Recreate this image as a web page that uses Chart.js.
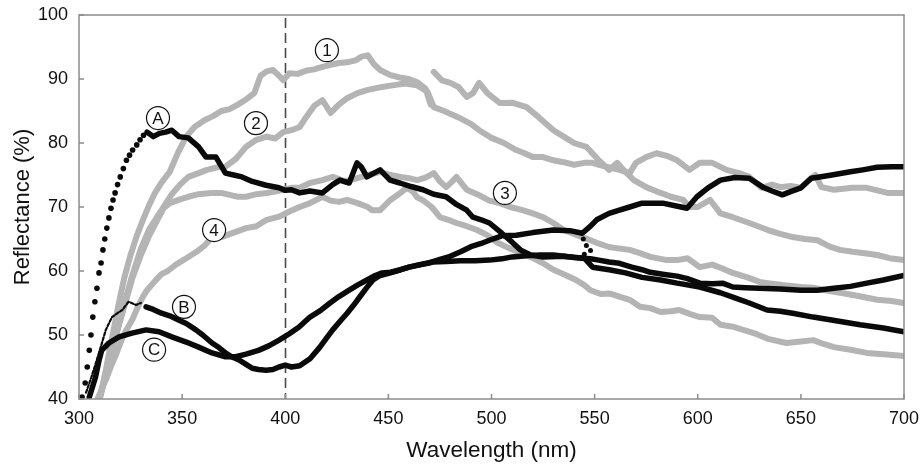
<!DOCTYPE html>
<html><head><meta charset="utf-8">
<script src="https://cdn.jsdelivr.net/npm/chart.js@4.4.1/dist/chart.umd.min.js"></script>
<style>html,body{margin:0;padding:0;background:#fff}canvas{display:block}</style>
</head><body>
<canvas id="c" width="921" height="467"></canvas>
<script>
// ---- tick labels / axis ----
const xTicks = [300, 350, 400, 450, 500, 550, 600, 650, 700];
const yTicks = [40, 50, 60, 70, 80, 90, 100];
const dashAt = 400;

// ---- gray spectra (1-4) ----
const wl1 = [310,313,316,319,322,325,328,331,334,337,340,344,348,352,356,361,365,369,373,377,381,385,388,391,394,397,399,402,406,410,414,418,422,426,430,434,437,440,443,446,451,456,460,464,468,470.5,472,476,480,484,488,491,494,498,504,510,517,523,530,535,540,546,552,557,561,564,569,575,582,587,593,596,600,606,611,617,625,634,640,646,652,658,664,669,675,680,687,693,700];
const r1  = [40,44.5,49.5,54.5,59,62.5,65.5,68,70.3,72.3,73.8,75.5,78.5,81,82.5,83.6,84.2,85,85.3,86,86.8,87.8,90.5,91.2,91.4,90.5,89.8,90.9,90.8,91.3,91.5,91.9,92.2,92.5,92.6,92.9,93.5,93.7,92.3,91.4,90.6,90.2,90,89.5,88.5,86,91.1,89.8,89.4,88.75,87.2,87.8,89.4,87.8,86.25,86.3,85.6,84,82,81,80,79.4,77.3,75.8,76.9,75.8,74.2,73.1,72.2,71.6,71.1,70,70,71.1,69,68.4,67.5,66.4,65.8,65.3,65,64.8,63.8,63.3,63,62.8,62.5,62,61.7];

const wl2 = [310,314,318,322,326,330,334,338,342,345,349,353,358,362,367,371,376,381,386,391,395,399,403,407,410,414,418,422,426,430,435,440,446,452,458,464,469,472,477,484,490,494,500,506,512,516,520,525,530,535,540,545,549,553,557,562,567,570,575,580,585,590,596,601,607,614,620,625,631,636,640,645,650,654,657,660,666,675,682,692,700];
const r2  = [40,45,50,55,59.5,63.5,66.5,68.5,70.5,72,73.5,74.7,75.3,75.8,76.2,76.3,77.5,79.4,80.5,81,80.7,81.7,82,82.5,84,85.8,86.7,84.7,86,87,87.8,88.3,88.7,89,89.3,89,88,85.6,85,84,83,82,80.8,80,78.9,78.4,77.8,77.8,77.3,77,76.6,76.9,76.9,76.5,76.2,75.8,75.3,76.9,77.8,78.4,78,77.3,75.8,76.9,76.9,75.8,75.3,74.7,73,73.5,73.1,73.3,73,74.2,75,73.1,72.7,73,73,72.2,72.2];

const wl3 = [310,314,318,322,326,330,334,338,341,344,349,353,358,364,369,373,377,381,386,391,395,399,403,407,412,418,423,429,435,440,446,451,456,460,464,468,472,475,478,481,483,486,488,493,499,504,509,515,520,525,530,535,540,544,548,551,557,562,567,572,577,585,590,595,601,607,612,617,624,630,634,641,650,656,662,669,676,687,694,700];
const r3  = [40,45,50,54.5,59,62.5,65.5,68,69.8,70.6,71.2,71.6,72,72.2,72.2,71.9,71.6,71.6,72,72.2,72.4,72.7,73,73,73.75,74.2,74.7,74,74.5,75,75.5,75,74.7,74.5,74.2,74.6,75.3,74,73.1,74,74.7,73.5,72.7,72,71,70.6,70,69.5,69,68.4,67.5,66.4,65.8,65.3,64.8,64.4,63.75,63.5,63.3,62.8,62.2,61.7,61.7,62,60.6,61,60.4,59.7,59,58.3,58.1,57.8,57.5,57.4,57,56.6,56.2,55.5,55.3,55];

const wl4 = [309,311,313.5,316,318,321,323,326,328,331,333,337,340,343,347,352,357,361,364.5,369,375,381,386,391,397,402,407,412,418,422,426,430,435,440,442,446,451,455,459,462,464,467,471,475,479,483,488,493,498,503,509,514,519,525,530,535,541,545,548,553,557,562,567,572,577,582,587,591,596,601,607,611,617,622,628,634,643,650,656,661,666,674,682,690,700];
const r4  = [40,41.5,43.4,45.5,47,49.5,50.8,52.5,54,56,57,58.5,59.5,60,61,62,63,64,65.3,65.3,66,66.7,67,68,68.5,69.3,70,70.6,71.6,71,70.8,71.1,70.6,70,69.5,69.5,71.1,72,73,72.4,71.5,71,70,68.4,68,67.5,67,66.4,65.6,64.4,63.5,62.8,62.2,61.2,60.2,59.5,58.6,57.8,57,56.4,56.5,56,55.5,54.4,54.2,53.6,53.7,53.9,53.3,52.8,52.7,51.6,51.3,50.8,50.2,49.4,48.75,49,49.2,48.6,48.1,47.7,47.2,47,46.7];

// ---- black spectra (A-C) ----
const wlAdots = [301.5,303,304,305,305.8,306.7,307.7,308.7,309.7,310.7,311.6,312.5,313.5,314.5,315.5,316.5,317.5,318.7,320,321.5,323,324.5,326,328,329.6,331.3];
const rAdots  = [40.3,42.5,45,47.6,50,52.8,55.2,57.3,59.7,61.25,63.3,65,66.7,68.3,69.8,71.1,72.2,73.5,74.7,76,77.3,78.1,78.9,79.7,80.5,81.2];
const wlA = [333,336,339,342,345,348.5,353,358,361.6,366.4,371,375,379,384,390.7,397,400,403,407,412,418,423,426.5,431,434.8,437,439.6,443,446,450.8,455.6,461,466.8,472,478,483,488,491,495,499,505,510,514,519,525,535,545,549,557,565,573,582,590,601,611,618,625,633.6,640,646,656,665.6,678.7,690,700];
const rA  = [81.7,81,81.5,81.7,82,81,80.8,79.4,77.8,77.8,75.3,75,74.7,74,73.4,73,72.6,72.7,72.2,72.5,72.2,73.5,74.2,73.75,76.9,76.2,74.7,75.3,75.8,74.2,73.75,73.2,72.7,72,71.6,70.4,69.5,68.4,68,67.5,65.9,64.5,63.3,62.5,62.2,62.3,62,60.6,60.2,59.7,59,58.6,58.1,57.5,56.6,55.8,55,53.9,53.7,53.4,52.8,52.3,51.6,51.1,50.5];

const wlBstart = [303.4,306,309.7,313,316,319,321,324,327.6,330];
const rBstart  = [41,43.4,47.2,50.8,52.8,53.5,53.9,55.2,54.7,55];
const wlB = [332.5,336,340,344,348.5,352,356.7,360,364.5,368,371,374,377.6,381,384,387,390.7,394,397,400,403,407,412,416.8,420,423,427,430,433,436,439.5,442.5,446,451,456,460,465,470,475,480,485,490,495,499,505,512,520,530,538,544,548,551,557,562,567,573,578,583,589,594.8,599.6,605,611,618,625,631.6,636,641,645,650,655,659,665,674,680,687,694,700];
const rB  = [54.4,54,53.4,53,52.3,51.8,50.8,50,48.75,48,47.2,46.6,46.1,45.4,44.8,44.6,44.5,44.6,45,45.3,45,45.2,46.3,48.1,49.5,50.8,52.3,53.4,54.6,55.9,57.4,58.6,59.3,59.7,60.2,60.6,61,61.3,61.8,62.3,63,63.8,64.3,64.8,65.5,65.6,66,66.4,66.3,65.9,67,68,69,69.5,70,70.6,70.6,70.6,70.2,69.8,71.6,73,74.2,74.6,74.5,73.1,72.5,71.9,72.4,73,74.5,74.7,75,75.5,75.8,76.2,76.3,76.3];
const wlBdots = [544.5,546,548,545];
const rBdots  = [65,64,63.2,62.6];

const wlC = [305,308,309.7,311,314.5,319.4,325.7,332.5,338.8,345,352,358,364.5,371,376,381,387,392,397,402,406.7,412,417,421.7,426,431,435,439.6,443,447,451,456,460,466,471.6,478,485,492,499,505,510,517,523.5,530,535,540,544,548,552,557,562,568,573,577,583,590,595,601,607,612,617,623,630,640,650,658,666,674,682,690,700];
const rC  = [40.3,43.4,46,47.6,48.75,49.7,50.3,50.8,50.5,49.7,48.9,48.1,47.2,46.6,46.6,47,47.6,48.3,49.2,50.2,51.25,52.8,53.8,55,56,57,57.8,58.6,59.2,59.7,59.8,60.2,60.6,61,61.4,61.5,61.6,61.6,61.7,61.9,62.2,62.4,62.5,62.5,62.3,62.1,62,61.9,61.7,61.4,61.2,60.6,60.2,59.8,59.5,59.2,58.8,58.1,58,58.1,57.5,57.4,57.3,57.2,57,57,57.3,57.6,58.1,58.6,59.3];

// ---- curve labels (text, wavelength, reflectance) ----
const labelText = ['1', '2', '3', '4', 'A', 'B', 'C'];
const labelX    = [420.2, 385.8, 506.5, 365.5, 338.3, 350.9, 336.4];
const labelY    = [94.5, 83.1, 72.2, 66.4, 83.9, 54.4, 47.7];

const FONT = "'Liberation Sans', Arial, Helvetica, sans-serif";
const GRAY = '#b4b4b4';
const BLACK = '#0a0a0a';
const AXIS = '#8c8c8c';

function pts(xs, ys) {
  return xs.map((x, i) => ({x: x, y: ys[i]}));
}
// a detector-switch jump (steep step over < 2 nm) is left as a gap, as in the original plot
const jumpGap = (color) => (c) => {
  const dx = Math.abs(c.p1.parsed.x - c.p0.parsed.x), dy = Math.abs(c.p1.parsed.y - c.p0.parsed.y);
  return (dx <= 2 && dy >= 4) ? 'rgba(0,0,0,0)' : color;
};
function lineDs(name, xs, ys, color, width, order, dash) {
  return {label: name, data: pts(xs, ys), showLine: true, borderColor: color, backgroundColor: color,
    borderWidth: width, pointRadius: 0, pointHoverRadius: 0, pointHitRadius: 0, tension: 0,
    borderJoinStyle: 'round', borderCapStyle: 'round', borderDash: dash || [], order: order,
    segment: {borderColor: jumpGap(color)}};
}
function dotDs(name, xs, ys, color, r, order) {
  return {label: name, data: pts(xs, ys), showLine: false, pointRadius: r, pointHoverRadius: r,
    pointHitRadius: 0, pointBorderWidth: 0, pointBackgroundColor: color, backgroundColor: color,
    borderColor: color, order: order};
}

const datasets = [
  lineDs('A', wlA, rA, BLACK, 5.5, 0),
  dotDs('A start', wlAdots, rAdots, BLACK, 2.8, 0),
  lineDs('B', wlB, rB, BLACK, 5.5, 0),
  lineDs('B start', wlBstart, rBstart, BLACK, 2.2, 0, [3, 2]),
  dotDs('B dots', wlBdots, rBdots, BLACK, 2.5, 0),
  lineDs('C', wlC, rC, BLACK, 5.5, 0),
  lineDs('1', wl1, r1, GRAY, 6, 1),
  lineDs('2', wl2, r2, GRAY, 6, 1),
  lineDs('3', wl3, r3, GRAY, 6, 1),
  lineDs('4', wl4, r4, GRAY, 6, 1)
];

const decor = {
  id: 'decor',
  beforeDatasetsDraw(chart) {
    const {ctx, chartArea: a, scales: {x}} = chart;
    const px = Math.round(x.getPixelForValue(dashAt)) + 0.5;
    ctx.save();
    ctx.strokeStyle = '#4a4a4a';
    ctx.lineWidth = 1.6;
    ctx.setLineDash([10, 5]);
    ctx.beginPath(); ctx.moveTo(px, a.top + 3); ctx.lineTo(px, a.bottom); ctx.stroke();
    ctx.restore();
  },
  afterDatasetsDraw(chart) {
    const {ctx, chartArea: a, scales: {x, y}} = chart;
    ctx.save();
    ctx.strokeStyle = AXIS; ctx.lineWidth = 1.5;
    ctx.strokeRect(a.left, a.top, a.right - a.left, a.bottom - a.top);
    ctx.beginPath();
    xTicks.forEach(v => { const p = x.getPixelForValue(v); ctx.moveTo(p, a.bottom); ctx.lineTo(p, a.bottom - 5); });
    yTicks.forEach(v => { const p = y.getPixelForValue(v); ctx.moveTo(a.left, p); ctx.lineTo(a.left + 5, p); });
    ctx.stroke();
    ctx.font = '17px ' + FONT;
    ctx.textAlign = 'center'; ctx.textBaseline = 'middle';
    labelText.forEach((t, i) => {
      const cx = x.getPixelForValue(labelX[i]), cy = y.getPixelForValue(labelY[i]);
      ctx.beginPath(); ctx.arc(cx, cy, 11.5, 0, Math.PI * 2);
      ctx.fillStyle = '#fff'; ctx.fill();
      ctx.strokeStyle = '#111'; ctx.lineWidth = 1.2; ctx.stroke();
      ctx.fillStyle = '#111'; ctx.fillText(t, cx, cy + 1);
    });
    ctx.restore();
  }
};

new Chart(document.getElementById('c'), {
  type: 'scatter',
  data: {datasets: datasets},
  options: {
    responsive: false, animation: false, devicePixelRatio: 1,
    layout: {autoPadding: false, padding: {top: 15, right: 17, bottom: 0, left: 0}},
    plugins: {legend: {display: false}, tooltip: {enabled: false}},
    scales: {
      x: {
        type: 'linear', min: 300, max: 700,
        afterBuildTicks: s => { s.ticks = xTicks.map(v => ({value: v})); },
        afterFit: s => { s.height = 68; s.paddingLeft = 0; s.paddingRight = 0; },
        grid: {display: false, drawTicks: false}, border: {display: false},
        ticks: {font: {family: FONT, size: 18}, color: '#111', padding: 9, maxRotation: 0, autoSkip: false},
        title: {display: true, text: 'Wavelength (nm)', font: {family: FONT, size: 22.5}, color: '#111', padding: {top: 0, bottom: 3}}
      },
      y: {
        type: 'linear', min: 40, max: 100,
        afterBuildTicks: s => { s.ticks = yTicks.map(v => ({value: v})); },
        afterFit: s => { s.width = 79; s.paddingTop = 0; s.paddingBottom = 0; },
        grid: {display: false, drawTicks: false}, border: {display: false},
        ticks: {font: {family: FONT, size: 18}, color: '#111', padding: 11},
        title: {display: true, text: 'Reflectance (%)', font: {family: FONT, size: 22}, color: '#111', padding: {top: 10, bottom: 0}}
      }
    }
  },
  plugins: [decor]
});
</script>
</body></html>
